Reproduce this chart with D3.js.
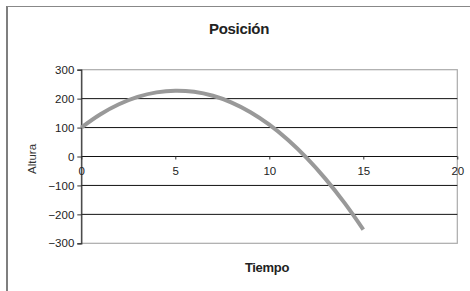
<!DOCTYPE html>
<html><head><meta charset="utf-8">
<script src="https://cdn.jsdelivr.net/npm/d3@7"></script>
<style>body{margin:0;background:#fff}svg{display:block;font-family:"Liberation Sans",Arial,sans-serif}</style>
</head><body><svg id="c" width="470" height="291"></svg>
<script>
const tiempo = [0,1,2,3,4,5,6,7,8,9,10,11,12,13,14,15];
const altura = [100,145.1,180.4,205.9,221.6,227.5,223.6,209.9,186.4,153.1,110,57.1,-5.6,-78.1,-160.4,-252.5];
const xTicks = [0,5,10,15,20];
const yTicks = [-300,-200,-100,0,100,200,300];

const svg = d3.select("#c");
const L=81.3, R=457.3, T=69.7, B=243.3;
const x = d3.scaleLinear().domain([0,20]).range([L,R]);
const y = d3.scaleLinear().domain([-300,300]).range([B,T]);

// outer border
svg.append("line").attr("x1",7).attr("x2",7).attr("y1",6).attr("y2",291).attr("stroke","#555").attr("stroke-width",1.5);
svg.append("line").attr("x1",7).attr("x2",470).attr("y1",6.5).attr("y2",6.5).attr("stroke","#888").attr("stroke-width",1);

// plot border
svg.append("rect").attr("x",L).attr("y",T).attr("width",R-L).attr("height",B-T).attr("fill","none").attr("stroke","#aaa").attr("stroke-width",1.2);

// gridlines
svg.append("g").selectAll("line").data(yTicks.filter(d=>d>-300&&d<300)).join("line")
  .attr("x1",L).attr("x2",R).attr("y1",d=>y(d)).attr("y2",d=>y(d)).attr("stroke","#111").attr("stroke-width",1);

// y axis
const ya = svg.append("g").attr("transform",`translate(${L},0)`).call(d3.axisLeft(y).tickValues(yTicks).tickSize(4).tickPadding(3));
ya.select(".domain").attr("stroke","#333").attr("stroke-width",1.2);
ya.selectAll("line").attr("stroke","#333");
ya.selectAll("text").attr("font-size",11.5).attr("fill","#222").attr("font-family","Liberation Sans, Arial, sans-serif");

// x axis at y=0
const xa = svg.append("g").attr("transform",`translate(0,${y(0)})`).call(d3.axisBottom(x).tickValues(xTicks).tickSize(3).tickPadding(7));
xa.select(".domain").remove();
xa.selectAll("line").attr("stroke","#333");
xa.selectAll("text").attr("font-size",11.5).attr("fill","#222").attr("font-family","Liberation Sans, Arial, sans-serif");

// line
const line = d3.line().x((d,i)=>x(tiempo[i])).y(d=>y(d)).curve(d3.curveCatmullRom);
svg.append("path").datum(altura).attr("d",line).attr("fill","none").attr("stroke","#999").attr("stroke-width",4).attr("stroke-linecap","butt");

// titles
svg.append("text").attr("x",239).attr("y",33.5).attr("text-anchor","middle").attr("font-size",15).attr("font-weight","bold").attr("letter-spacing",-0.3).attr("fill","#222").text("Posición");
svg.append("text").attr("x",267).attr("y",271.5).attr("text-anchor","middle").attr("font-size",13).attr("font-weight","bold").attr("letter-spacing",-0.3).attr("fill","#222").text("Tiempo");
svg.append("text").attr("transform",`translate(35.5,159) rotate(-90)`).attr("text-anchor","middle").attr("font-size",11.5).attr("fill","#333").text("Altura");
</script></body></html>
